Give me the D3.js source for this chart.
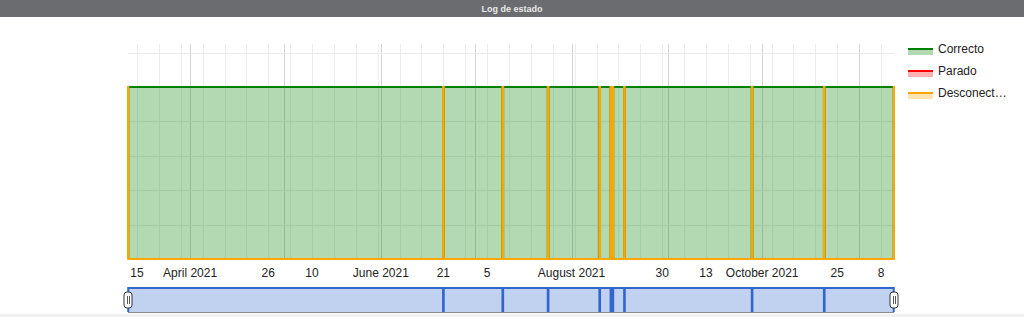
<!DOCTYPE html>
<html>
<head>
<meta charset="utf-8">
<script src="https://cdn.jsdelivr.net/npm/d3@7"></script>
<style>
  body { margin: 0; background: #fff; font-family: "Liberation Sans", Arial, sans-serif; }
  svg { display: block; }
</style>
</head>
<body>
<svg id="chart" width="1024" height="317"></svg>
<script>
// status log: each row is the moment the state changed (step after)
const times = [
  "2021-03-12T03:00", "2021-03-12T05:00",
  "2021-06-20T22:00", "2021-06-21T03:00",
  "2021-07-09T22:00", "2021-07-10T03:00",
  "2021-07-24T10:00", "2021-07-24T15:00",
  "2021-08-09T22:00", "2021-08-10T03:00",
  "2021-08-13T12:00", "2021-08-13T16:00",
  "2021-08-14T04:00", "2021-08-14T08:00",
  "2021-08-17T20:00", "2021-08-18T01:00",
  "2021-09-27T16:00", "2021-09-27T21:00",
  "2021-10-20T18:00", "2021-10-20T23:00",
  "2021-11-12T02:00", "2021-11-12T04:00"
];
const correcto     = [0,1, 0,1, 0,1, 0,1, 0,1, 0,1, 0,1, 0,1, 0,1, 0,1, 0,0];
const parado       = [0,0, 0,0, 0,0, 0,0, 0,0, 0,0, 0,0, 0,0, 0,0, 0,0, 0,0];
const desconectado = [1,0, 1,0, 1,0, 1,0, 1,0, 1,0, 1,0, 1,0, 1,0, 1,0, 1,1];

const seriesNames = ["Correcto", "Parado", "Desconectado"];
const seriesColors = ["green", "red", "orange"];

// x axis labels as shown
const tickDates = ["2021-03-15", "2021-04-01", "2021-04-26", "2021-05-10", "2021-06-01", "2021-06-21",
  "2021-07-05", "2021-08-01", "2021-08-30", "2021-09-13", "2021-10-01", "2021-10-25", "2021-11-08"];
const tickLabels = ["15", "April 2021", "26", "10", "June 2021", "21",
  "5", "August 2021", "30", "13", "October 2021", "25", "8"];

const parseT = d3.timeParse("%Y-%m-%dT%H:%M");
const parseD = d3.timeParse("%Y-%m-%d");
const T = times.map(parseT);

const svg = d3.select("#chart");
const pLeft = 128, pRight = 894, pTop = 44, pBottom = 259;

// title bar
svg.append("rect").attr("x", 0).attr("y", 0).attr("width", 1024).attr("height", 17).attr("fill", "#6b6c70");
svg.append("text").attr("x", 512).attr("y", 12).attr("text-anchor", "middle")
  .attr("fill", "#e8e8e8").attr("font-size", 9).attr("font-weight", "bold").text("Log de estado");

const x = d3.scaleTime().domain([T[0], T[T.length - 1]]).range([pLeft, pRight]);
const y = d3.scaleLinear().domain([0, 1.25]).range([pBottom, pTop]);

// gridlines
const grid = svg.append("g");
grid.selectAll(".wk").data(d3.timeMonday.range(T[0], T[T.length - 1])).enter().append("line")
  .attr("x1", d => Math.round(x(d)) + 0.5).attr("x2", d => Math.round(x(d)) + 0.5)
  .attr("y1", pTop).attr("y2", pBottom).attr("stroke", "#ededed");
grid.selectAll(".mo").data(d3.timeMonth.range(T[0], T[T.length - 1])).enter().append("line")
  .attr("x1", d => Math.round(x(d)) + 0.5).attr("x2", d => Math.round(x(d)) + 0.5)
  .attr("y1", pTop).attr("y2", pBottom).attr("stroke", "#d4d4d4");
grid.selectAll(".h").data(y.ticks(5)).enter().append("line")
  .attr("x1", pLeft).attr("x2", pRight)
  .attr("y1", d => Math.round(y(d)) + 0.5).attr("y2", d => Math.round(y(d)) + 0.5)
  .attr("stroke", d => d === 1.25 ? "#cccccc" : "#ebebeb");

// outline of a stepped series, closed down to baseline at both ends
function stepOutline(vals, xs, ys) {
  const pts = [[xs(T[0]), ys(0)]];
  vals.forEach((v, i) => {
    const nx = i < vals.length - 1 ? xs(T[i + 1]) : xs(T[i]);
    pts.push([xs(T[i]), ys(v)], [nx, ys(v)]);
  });
  pts.push([xs(T[T.length - 1]), ys(0)]);
  return d3.line()(pts);
}

// stepped areas
const allSeries = [correcto, parado, desconectado];
const area = d3.area().curve(d3.curveStepAfter).x((d, i) => x(T[i])).y0(y(0)).y1(d => y(d));

allSeries.forEach((vals, k) => {
  svg.append("path").attr("d", area(vals)).attr("fill", seriesColors[k]).attr("fill-opacity", 0.3);
});
allSeries.forEach((vals, k) => {
  svg.append("path").attr("d", stepOutline(vals, x, y)).attr("fill", "none")
    .attr("stroke", seriesColors[k]).attr("stroke-width", 2);
});

// x labels
svg.append("g").selectAll("text").data(tickDates).enter().append("text")
  .attr("x", d => x(parseD(d))).attr("y", 277).attr("text-anchor", "middle")
  .attr("font-size", 12).attr("fill", "#222").text((d, i) => tickLabels[i]);

// legend
const lg = svg.append("g").attr("transform", "translate(908,49)");
seriesNames.forEach((n, i) => {
  const g = lg.append("g").attr("transform", `translate(0,${i * 22})`);
  g.append("rect").attr("x", 0).attr("y", 0).attr("width", 25).attr("height", 6)
    .attr("fill", seriesColors[i]).attr("fill-opacity", 0.3);
  g.append("line").attr("x1", 0).attr("x2", 25).attr("y1", 0).attr("y2", 0)
    .attr("stroke", seriesColors[i]).attr("stroke-width", 2);
  g.append("text").attr("x", 30).attr("y", 4).attr("font-size", 12).attr("fill", "#222")
    .text(n === "Desconectado" ? "Desconect\u2026" : n);
});

// range filter
const fTop = 288, fBottom = 312;
const yf = d3.scaleLinear().domain([0, 1]).range([fBottom, fTop]);
const fArea = d3.area().curve(d3.curveStepAfter).x((d, i) => x(T[i])).y0(fBottom).y1(d => yf(d));
svg.append("path").attr("d", fArea(correcto)).attr("fill", "#3366cc").attr("fill-opacity", 0.3);
svg.append("path").attr("d", stepOutline(correcto, x, yf))
  .attr("fill", "none").attr("stroke", "#3366cc").attr("stroke-width", 2);
svg.append("line").attr("x1", pLeft).attr("x2", pRight).attr("y1", fBottom + 0.5).attr("y2", fBottom + 0.5)
  .attr("stroke", "#8a8a8a");

// handles
[pLeft, pRight].forEach(hx => {
  svg.append("rect").attr("x", hx - 4).attr("y", 292).attr("width", 8).attr("height", 16).attr("rx", 3)
    .attr("fill", "#fff").attr("stroke", "#333").attr("stroke-width", 1);
  svg.append("line").attr("x1", hx - 0.5).attr("x2", hx - 0.5).attr("y1", 296).attr("y2", 304).attr("stroke", "#555");
  svg.append("line").attr("x1", hx + 1.5).attr("x2", hx + 1.5).attr("y1", 296).attr("y2", 304).attr("stroke", "#555");
});

// bottom strip
svg.append("rect").attr("x", 0).attr("y", 314).attr("width", 1024).attr("height", 3).attr("fill", "#f1f1f1");
</script>
</body>
</html>
